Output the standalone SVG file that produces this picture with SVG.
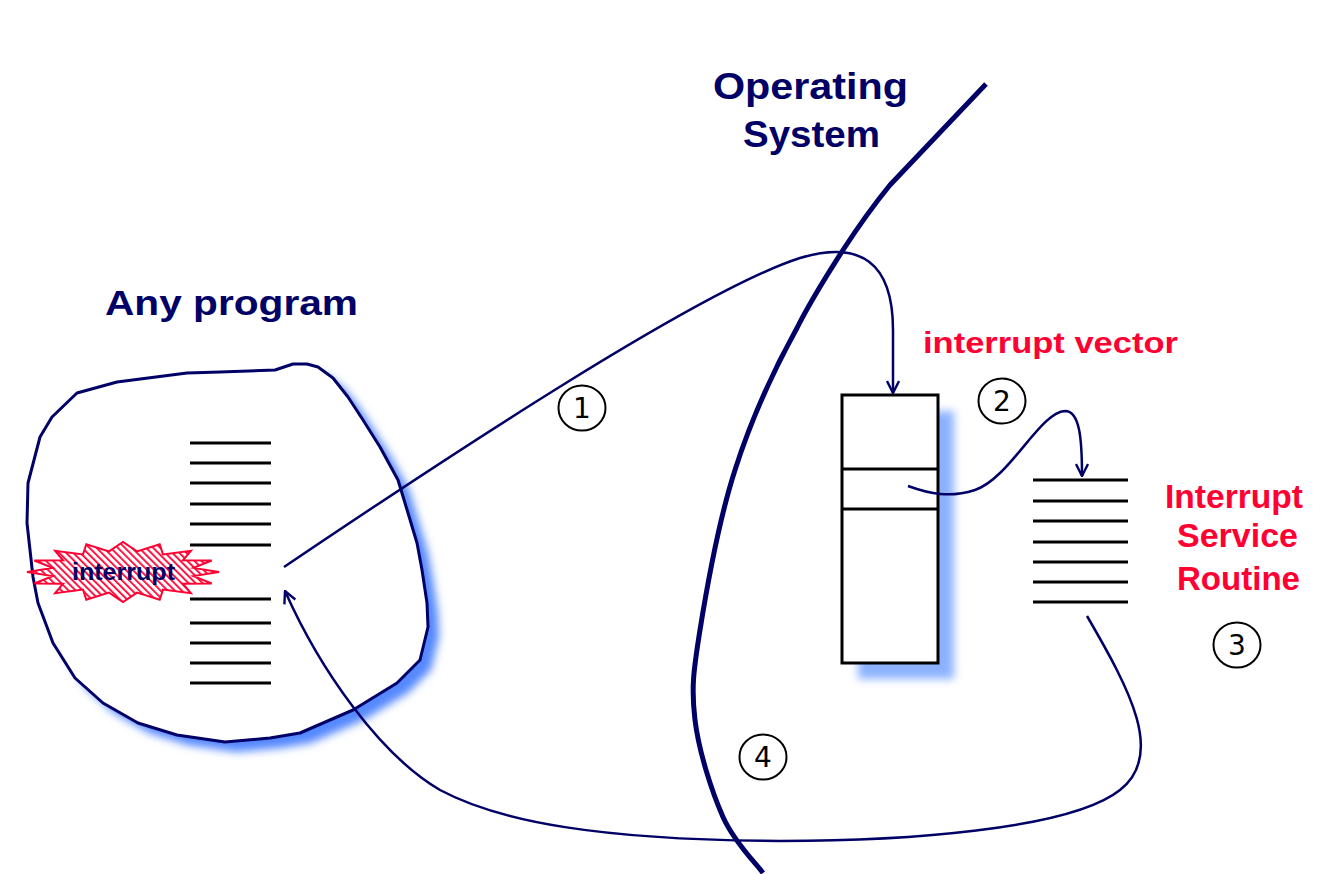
<svg xmlns="http://www.w3.org/2000/svg" width="1326" height="874" viewBox="0 0 1326 874">
<style>
.navy{fill:#000066;font-family:"Liberation Sans",Arial,sans-serif;font-weight:bold}
.red{fill:#ff0033;font-family:"Liberation Sans",Arial,sans-serif;font-weight:bold}
.code{stroke:#000;stroke-width:3;fill:none}
.conn{stroke:#000066;stroke-width:2.5;fill:none}
.num{fill:#fff;stroke:#000;stroke-width:2}
.digit{fill:#000;font-family:"DejaVu Sans","Liberation Sans",sans-serif;font-size:28px;text-anchor:middle}
</style>
<defs>
<filter id="blur" x="-20%" y="-20%" width="140%" height="140%"><feGaussianBlur stdDeviation="4"/></filter>
<marker id="arr" viewBox="0 0 14 14" refX="13" refY="7" markerWidth="14" markerHeight="14" markerUnits="userSpaceOnUse" orient="auto">
<path d="M1,1 L13,7 L1,13" fill="none" stroke="#000066" stroke-width="2.4"/>
</marker>
<pattern id="hatch" width="5" height="5" patternUnits="userSpaceOnUse" patternTransform="rotate(-45)">
<rect width="5" height="5" fill="#fff"/>
<rect width="1.8" height="5" fill="#ff0033"/>
</pattern>
</defs>
<rect width="1326" height="874" fill="#fff"/>

<g id="any-program">
<path transform="translate(11,10)" filter="url(#blur)" fill="#5588ff" d="M117,382 L187,373 L220,372 L275,370 L293,364 L307,364 L318,367 L333,378 L348,397 L363,420 L380,447 L398,480 L408,513 L417,543 L422,570 L427,603 L428,627 L420,660 L397,683 L353,710 L300,733 L270,738 L225,742 L177,735 L138,723 L103,703 L75,678 L53,643 L38,603 L33,577 L27,523 L28,483 L40,437 L52,417 L77,393 Z"/>
<path fill="#fff" stroke="#000066" stroke-width="3" stroke-linejoin="round" d="M117,382 L187,373 L220,372 L275,370 L293,364 L307,364 L318,367 L333,378 L348,397 L363,420 L380,447 L398,480 L408,513 L417,543 L422,570 L427,603 L428,627 L420,660 L397,683 L353,710 L300,733 L270,738 L225,742 L177,735 L138,723 L103,703 L75,678 L53,643 L38,603 L33,577 L27,523 L28,483 L40,437 L52,417 L77,393 Z"/>
<path class="code" d="M190,443H271M190,463H271M190,483H271M190,504H271M190,524H271M190,545H271M190,599H271M190,623H271M190,643H271M190,663H271M190,683H271"/>
<text class="navy" x="105" y="315" font-size="35" textLength="253" lengthAdjust="spacingAndGlyphs">Any program</text>
</g>

<g id="interrupt-burst">
<polygon fill="url(#hatch)" stroke="#ff0033" stroke-width="2" points="219,572 193.6,576.1 211.7,583.5 182.9,583.7 190.9,593.2 163,589.5 159.7,599.7 137,592.6 123,602 109,592.6 86.3,599.7 83,589.5 55.1,593.2 63.1,583.7 34.3,583.5 52.4,576.1 27,572 52.4,567.9 34.3,560.5 63.1,560.3 55.1,550.8 83,554.5 86.3,544.3 109,551.4 123,542 137,551.4 159.7,544.3 163,554.5 190.9,550.8 182.9,560.3 211.7,560.5 193.6,567.9"/>
<text class="navy" x="72" y="580" font-size="23" textLength="103" lengthAdjust="spacingAndGlyphs">interrupt</text>
</g>

<g id="operating-system">
<path fill="none" stroke="#000066" stroke-width="5" stroke-linecap="butt" stroke-linejoin="round" d="M986,84 L890,185 C872,207 858,227 843,250 C825,278 810,302 797,328 C771,375 751,420 735,470 C718.8,520.3 706.7,588.3 700,630 C693.3,671.7 691.2,688.8 695,720 C698.8,751.2 711.7,791.5 723,817 C734.3,842.5 756.3,863.7 763,873"/>
<text class="navy" x="713" y="99" font-size="37" textLength="195" lengthAdjust="spacingAndGlyphs">Operating</text>
<text class="navy" x="743" y="147" font-size="37" textLength="137" lengthAdjust="spacingAndGlyphs">System</text>
</g>

<g id="interrupt-vector">
<rect x="858" y="411" width="96" height="268" fill="#6699ff" filter="url(#blur)" opacity="0.75"/>
<rect x="842" y="395" width="96" height="268" fill="#fff" stroke="#000" stroke-width="3"/>
<path class="code" d="M842,469H938M842,509H938"/>
<text class="red" x="923" y="353" font-size="29" textLength="255" lengthAdjust="spacingAndGlyphs">interrupt vector</text>
</g>

<g id="isr">
<path class="code" d="M1033,480H1128M1033,501H1128M1033,521H1128M1033,542H1128M1033,562H1128M1033,582H1128M1033,602H1128"/>
<text class="red" x="1165" y="508" font-size="33" textLength="138" lengthAdjust="spacingAndGlyphs">Interrupt</text>
<text class="red" x="1177" y="547" font-size="33" textLength="121" lengthAdjust="spacingAndGlyphs">Service</text>
<text class="red" x="1177" y="590" font-size="33" textLength="123" lengthAdjust="spacingAndGlyphs">Routine</text>
</g>

<g id="connectors">
<path class="conn" marker-end="url(#arr)" d="M284,567 C450,455 700,290 800,258 C860,240 893,262 893,330 L893,393"/>
<path class="conn" marker-end="url(#arr)" d="M908,486 C930,494 950,498 975,490 C1010,478 1040,412 1065,411 C1080,411 1082,440 1082,476"/>
<path class="conn" marker-end="url(#arr)" d="M1087,616 C1130,690 1165,755 1120,790 C1070,830 900,841 780,841 C600,840 500,822 440,790 C380,755 320,670 285,591"/>
</g>

<g id="step-1"><ellipse class="num" cx="582" cy="408" rx="23.5" ry="22.5"/><text class="digit" x="582" y="418">1</text></g>
<g id="step-2"><ellipse class="num" cx="1002" cy="401" rx="23.5" ry="22.5"/><text class="digit" x="1002" y="411">2</text></g>
<g id="step-3"><ellipse class="num" cx="1237" cy="645" rx="23.5" ry="22.5"/><text class="digit" x="1237" y="655">3</text></g>
<g id="step-4"><ellipse class="num" cx="763" cy="757" rx="23.5" ry="22.5"/><text class="digit" x="763" y="767">4</text></g>
</svg>
